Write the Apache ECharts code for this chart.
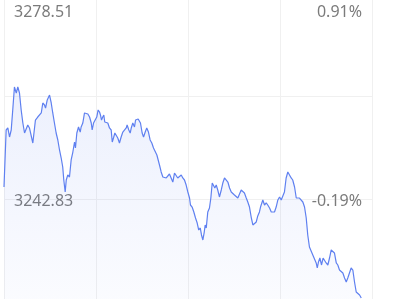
<!DOCTYPE html>
<html>
<head>
<meta charset="utf-8">
<script src="https://cdn.jsdelivr.net/npm/echarts@6/dist/echarts.min.js"></script>
<style>
html,body{margin:0;padding:0;background:#fff;}
#chart{width:402px;height:299px;}
</style>
</head>
<body>
<div id="chart"></div>
<script>
var minutes = [0,1.4,2.5,3.6,4.7,5.7,6.8,8.0,9.0,10.1,11.2,12.3,13.4,14.5,15.5,16.6,17.7,18.8,19.9,20.5,22.0,23.2,24.3,25.3,26.4,27.1,28.2,29.7,30.8,31.8,32.9,34.0,35.1,36.2,37.3,38.3,39.0,39.9,40.6,41.6,42.7,43.8,44.9,46.0,46.6,47.5,48.6,49.7,50.3,51.4,52.5,53.6,54.7,55.8,56.9,57.5,58.4,59.5,60.5,61.4,62.3,62.9,63.6,64.4,65.1,65.7,66.7,67.7,68.8,69.9,70.6,71.4,72.3,73.2,74.2,75.3,76.4,77.5,78.6,79.7,80.3,81.4,82.3,83.0,84.0,85.1,85.8,86.9,87.5,88.4,89.0,90.1,91.0,92.1,93.1,94.2,95.3,96.4,97.5,98.6,99.7,100.8,101.4,102.5,103.6,104.7,105.8,106.8,107.9,109.0,110.1,111.2,112.3,113.3,114.5,115.6,116.6,117.7,118.8,119.9,121.0,121.6,122.7,123.8,124.9,126.0,127.0,128.0,128.8,129.7,130.6,131.2,131.9,132.9,134.0,134.9,135.8,136.6,137.5,138.4,139.4,140.5,141.7,142.7,143.8,144.9,146.0,147.1,148.2,149.2,150.3,151.4,152.5,153.6,154.7,155.7,156.8,158.0,159.0,160.1,161.2,162.3,163.4,164.5,165.5,166.6,167.3,168.8,169.9,171.0,172.0,173.2,174.3,175.3,176.4,177.5,178.6,179.7,180.8,181.8,182.9,184.0,185.1,186.2,187.3,188.3,189.5,190.6,191.6,192.7,193.8,194.9,196.0,197.1,198.1,199.2,200.3,201.4,202.5,203.6,204.3,205.1,206.0,207.1,208.1,209.0,210.1,211.2,212.3,213.4,214.4,215.5,216.7,217.7,218.8,219.9,221.0,222.1,223.2,224.2,225.3,226.4,227.5,228.6,229.7,230.7,231.9,233.0];
var prices = [3244.91,3254.78,3255.13,3253.57,3254.78,3258.25,3262.23,3261.19,3262.23,3261.19,3258.25,3255.99,3254.26,3253.92,3255.65,3255.13,3255.13,3252.53,3252.70,3256.51,3257.03,3257.03,3257.73,3259.46,3259.11,3258.59,3259.98,3260.84,3259.46,3257.73,3255.99,3254.26,3253.05,3251.32,3249.93,3248.37,3246.12,3244.04,3246.12,3246.99,3246.64,3249.59,3250.97,3252.70,3251.66,3254.26,3255.30,3254.43,3255.30,3255.99,3257.73,3257.73,3257.55,3257.03,3255.99,3254.78,3255.99,3256.17,3257.03,3258.25,3257.90,3257.38,3256.51,3257.03,3257.38,3256.17,3256.51,3255.99,3255.13,3254.78,3252.70,3253.40,3254.26,3253.92,3253.40,3252.53,3253.57,3254.43,3254.26,3255.13,3255.65,3254.78,3254.26,3255.13,3255.99,3255.30,3256.51,3256.17,3256.69,3256.51,3255.99,3254.26,3253.57,3254.43,3255.13,3254.43,3253.05,3252.53,3251.66,3251.32,3250.45,3250.28,3248.72,3247.51,3246.64,3246.47,3246.47,3246.64,3247.16,3246.47,3245.77,3247.33,3246.99,3246.47,3246.64,3246.99,3246.47,3246.12,3245.25,3244.04,3243.00,3241.79,3241.44,3240.58,3239.54,3238.67,3237.46,3237.81,3236.60,3235.73,3237.11,3238.33,3237.81,3240.58,3241.27,3243.00,3245.60,3245.60,3244.74,3245.25,3244.39,3243.18,3244.39,3245.60,3246.47,3246.29,3245.77,3244.74,3244.04,3243.87,3243.52,3243.18,3243.00,3243.00,3244.39,3244.56,3243.87,3243.00,3242.31,3241.44,3239.71,3238.33,3238.50,3238.85,3239.89,3240.58,3241.44,3242.66,3241.79,3242.14,3241.79,3241.27,3240.58,3240.58,3240.58,3241.44,3242.66,3243.18,3242.66,3243.00,3244.04,3246.47,3247.51,3247.33,3246.47,3246.12,3244.91,3243.00,3243.00,3243.00,3243.18,3242.31,3241.44,3239.54,3236.60,3234.52,3234.34,3233.13,3233.13,3231.75,3230.88,3231.92,3232.61,3231.40,3232.61,3232.78,3231.75,3231.40,3232.61,3234.00,3234.34,3233.48,3231.75,3231.40,3230.53,3230.19,3230.01,3229.15,3228.45,3229.15,3230.01,3230.88,3230.53,3228.45,3226.72,3226.55,3226.20,3225.68];

var yMin = 3224.99;
var yMax = 3278.51;
var gridValues = [3224.99, 3242.83, 3260.67, 3278.51];
var priceLabels = [3242.83, 3278.51];
var prevClose = 3248.95;
var xTicks = [0, 60, 120, 180, 240];

var lineData = minutes.map(function (m, i) { return [m, prices[i]]; });

var chart = echarts.init(document.getElementById('chart'), null, {renderer: 'canvas'});
var labelColor = '#7b7b7b';
var splitColor = '#f0f0f0';

function pctText(v) {
  return ((v / prevClose - 1) * 100).toFixed(2) + '%';
}

chart.setOption({
  animation: false,
  backgroundColor: '#ffffff',
  grid: {left: 4, right: 30, top: -7, bottom: -3, outerBoundsMode: 'none', containLabel: false},
  xAxis: {
    type: 'value', min: 0, max: 240, interval: 60,
    axisLine: {show: false}, axisTick: {show: false}, axisLabel: {show: false},
    splitLine: {show: true, lineStyle: {color: splitColor, width: 1}}
  },
  yAxis: [{
    type: 'value', min: yMin, max: yMax, position: 'left',
    axisLine: {show: false},
    axisTick: {show: false, customValues: gridValues},
    splitLine: {show: true, lineStyle: {color: splitColor, width: 1}},
    axisLabel: {
      inside: true, margin: 10, customValues: priceLabels,
      color: labelColor, fontSize: 16, fontFamily: 'Noto Sans, sans-serif',
      formatter: function (v) {
        var s = v.toFixed(2);
        return v >= yMax - 0.001 ? '{t|' + s + '}' : '{m|' + s + '}';
      },
      rich: {
        t: {color: labelColor, fontSize: 16, fontFamily: 'Noto Sans, sans-serif', padding: [38, 0, 0, 0]},
        m: {color: labelColor, fontSize: 16, fontFamily: 'Noto Sans, sans-serif', padding: [4, 0, 0, 0]}
      }
    }
  }, {
    type: 'value', min: yMin, max: yMax, position: 'right',
    axisLine: {show: false},
    axisTick: {show: false, customValues: gridValues},
    splitLine: {show: false},
    axisLabel: {
      inside: true, margin: 10, customValues: priceLabels,
      color: labelColor, fontSize: 16, fontFamily: 'Noto Sans, sans-serif',
      formatter: function (v) {
        var s = pctText(v);
        return v >= yMax - 0.001 ? '{t|' + s + '}' : '{m|' + s + '}';
      },
      rich: {
        t: {color: labelColor, fontSize: 16, fontFamily: 'Noto Sans, sans-serif', padding: [38, 0, 0, 0]},
        m: {color: labelColor, fontSize: 16, fontFamily: 'Noto Sans, sans-serif', padding: [4, 0, 0, 0]}
      }
    }
  }],
  series: [{
    type: 'line',
    data: lineData,
    showSymbol: false,
    symbol: 'none',
    smooth: false,
    clip: true,
    lineStyle: {color: '#5f80f0', width: 1.2},
    areaStyle: {
      origin: 'start',
      color: new echarts.graphic.LinearGradient(0, 0, 0, 1, [
        {offset: 0, color: 'rgba(95,128,240,0.17)'},
        {offset: 1, color: 'rgba(95,128,240,0.04)'}
      ])
    }
  }]
});
</script>
</body>
</html>
